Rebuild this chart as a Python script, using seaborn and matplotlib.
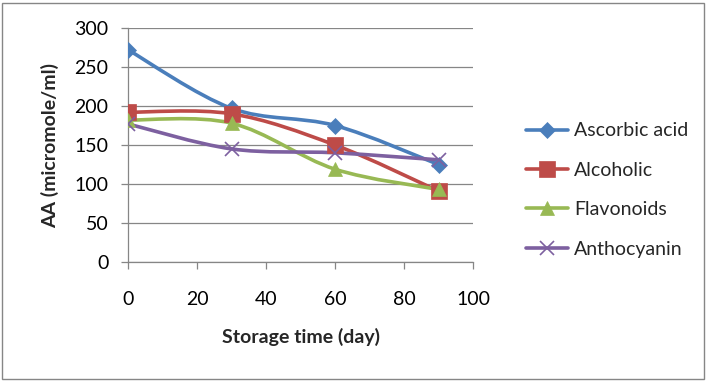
import numpy as np
import pandas as pd
import matplotlib
matplotlib.use("Agg")
import matplotlib.pyplot as plt
from matplotlib.path import Path
from matplotlib.patches import PathPatch, Rectangle
from matplotlib.lines import Line2D
import seaborn as sns

days = [0, 30, 60, 90]
ascorbic = [272, 197, 175, 125]
alcoholic = [192, 190, 150, 91]
flavonoids = [182, 178, 119, 93]
anthocyanin = [177, 145, 140, 131]
series_names = ["Ascorbic acid", "Alcoholic", "Flavonoids", "Anthocyanin"]
x_ticks = [0, 20, 40, 60, 80, 100]
y_ticks = [0, 50, 100, 150, 200, 250, 300]

colors = ["#4A7EBB", "#BE4B48", "#98B954", "#7D60A0"]
markers = ["D", "s", "^", "x"]
msizes = [8, 11, 10, 10]

sns.set_theme(style="white")
plt.rcParams["font.family"] = ["Lato", "DejaVu Sans"]

df = pd.DataFrame({
    "day": days * 4,
    "value": ascorbic + alcoholic + flavonoids + anthocyanin,
    "series": sum([[n] * len(days) for n in series_names], []),
})

fig = plt.figure(figsize=(7.06, 3.82), dpi=100)
ax = fig.add_axes([128 / 706, 1 - 262 / 382, (473 - 128) / 706, (262 - 28) / 382])

# outer border
fig.patches.append(Rectangle((2 / 706, 3 / 382), 702 / 706, 376 / 382, transform=fig.transFigure,
                             fill=False, edgecolor="#868686", linewidth=1.0))


def smooth_path(xs, ys):
    pts = np.column_stack([xs, ys]).astype(float)
    n = len(pts)
    verts = [pts[0]]
    codes = [Path.MOVETO]
    for i in range(n - 1):
        p0 = pts[i - 1] if i > 0 else pts[i]
        p1 = pts[i]
        p2 = pts[i + 1]
        p3 = pts[i + 2] if i + 2 < n else pts[i + 1]
        c1 = p1 + (p2 - p0) / 6.0
        c2 = p2 - (p3 - p1) / 6.0
        verts += [c1, c2, p2]
        codes += [Path.CURVE4] * 3
    return Path(verts, codes)


for name, col in zip(series_names, colors):
    sub = df[df.series == name]
    ax.add_patch(PathPatch(smooth_path(sub.day.values, sub.value.values), fill=False,
                           edgecolor=col, linewidth=2.6, zorder=3, capstyle="round"))

for name, col, m, ms in zip(series_names, colors, markers, msizes):
    sub = df[df.series == name]
    sns.lineplot(data=sub, x="day", y="value", ax=ax, linestyle="none", marker=m,
                 markersize=ms, color=col, markeredgecolor=col,
                 markeredgewidth=1.2 if m == "x" else 0.5, zorder=4, legend=False)

ax.set_xlim(0, 100)
ax.set_ylim(0, 300)
ax.set_xticks(x_ticks)
ax.set_yticks(y_ticks)
ax.set_xticklabels([str(t) for t in x_ticks])
ax.set_yticklabels([str(t) for t in y_ticks])
ax.grid(axis="y", color="#868686", linewidth=0.9)
ax.grid(axis="x", visible=False)
ax.set_axisbelow(True)
for s in ["top", "right"]:
    ax.spines[s].set_visible(False)
for s in ["left", "bottom"]:
    ax.spines[s].set_color("#868686")
    ax.spines[s].set_linewidth(0.9)
ax.tick_params(axis="x", direction="out", length=5, width=0.9, color="#868686",
               pad=16, labelsize=14, labelcolor="black", bottom=True)
ax.tick_params(axis="y", direction="out", length=5, width=0.9, color="#868686",
               pad=9, labelsize=14, labelcolor="black", left=True)
ax.set_xlabel("Storage time (day)", fontsize=14, fontweight="bold", labelpad=14)
ax.set_ylabel("AA (micromole/ml)", fontsize=14, fontweight="bold", labelpad=11)

handles = [Line2D([0], [0], color=c, linewidth=2.6, marker=m, markersize=ms,
                  markeredgecolor=c, markeredgewidth=1.2 if m == "x" else 0.5)
           for c, m, ms in zip(colors, markers, msizes)]
fig.legend(handles, series_names, loc="center left", bbox_to_anchor=(508 / 706, 1 - 190 / 382),
           frameon=False, fontsize=14, handlelength=2.2, labelspacing=1.15, handletextpad=0.3)

fig.savefig("out.png", dpi=100)
